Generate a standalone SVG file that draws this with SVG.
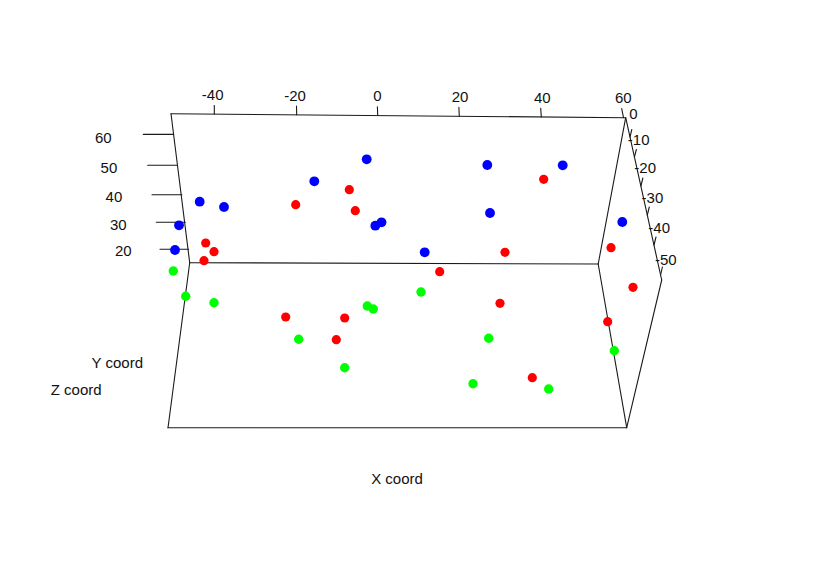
<svg xmlns="http://www.w3.org/2000/svg" width="814" height="586" viewBox="0 0 814 586">
<style>
  .ax { stroke:#1a1a1a; stroke-width:1.1; fill:none; stroke-linecap:round; }
  .lab { font-family:"Liberation Sans", Arial, sans-serif; font-size:15px; fill:#111; }
  .b { fill:#0000ff; }
  .r { fill:#ff0000; }
  .g { fill:#00ff00; }
</style>
<rect width="814" height="586" fill="#ffffff"/>
<g id="box" class="ax">
  <line x1="171" y1="113.7" x2="625.7" y2="117.7"/>
  <line x1="171" y1="113.7" x2="189.7" y2="262.7"/>
  <line x1="189.7" y1="262.7" x2="598.2" y2="264"/>
  <line x1="625.7" y1="117.7" x2="598.2" y2="264"/>
  <line x1="625.7" y1="117.7" x2="661.7" y2="280"/>
  <line x1="661.7" y1="280" x2="626.7" y2="427.7"/>
  <line x1="598.2" y1="264" x2="626.7" y2="427.7"/>
  <line x1="168" y1="427.7" x2="626.7" y2="427.7"/>
  <line x1="189.7" y1="262.7" x2="168" y2="427.7"/>
</g>
<g id="x-axis">
  <g class="ax">
    <line x1="214.3" y1="114.1" x2="214.3" y2="105.5"/>
    <line x1="296.7" y1="114.8" x2="296.5" y2="106"/>
    <line x1="377.7" y1="115.5" x2="377.4" y2="106.7"/>
    <line x1="459.3" y1="116.2" x2="458.9" y2="107.4"/>
    <line x1="541.3" y1="117" x2="540.7" y2="108.2"/>
    <line x1="623.5" y1="117.7" x2="621.7" y2="108.6"/>
  </g>
  <g class="lab" text-anchor="middle">
    <text x="212.7" y="100.2">-40</text>
    <text x="295" y="100.6">-20</text>
    <text x="377.5" y="101.2">0</text>
    <text x="460" y="101.8">20</text>
    <text x="542.3" y="102.6">40</text>
    <text x="623.3" y="102.8">60</text>
  </g>
</g>
<g id="z-axis">
  <g class="ax">
    <line x1="143.3" y1="134.4" x2="173.6" y2="134.4"/>
    <line x1="147.7" y1="165.3" x2="177.5" y2="165.3"/>
    <line x1="152" y1="194.7" x2="181.9" y2="194.7"/>
    <line x1="156.3" y1="222.3" x2="185.3" y2="222.3"/>
    <line x1="160" y1="249.3" x2="188.6" y2="249.3"/>
  </g>
  <g class="lab" text-anchor="end">
    <text x="111.7" y="142.8">60</text>
    <text x="117.3" y="172.7">50</text>
    <text x="122.3" y="202.1">40</text>
    <text x="126.7" y="229.7">30</text>
    <text x="131.7" y="256.4">20</text>
  </g>
</g>
<g id="y-axis">
  <g class="ax">
    <line x1="630" y1="137" x2="631.8" y2="129.5"/>
    <line x1="634.4" y1="157" x2="636.4" y2="149.5"/>
    <line x1="640.9" y1="186" x2="642.9" y2="178"/>
    <line x1="647.3" y1="215" x2="649.3" y2="207"/>
    <line x1="654" y1="245" x2="656" y2="237"/>
    <line x1="660.6" y1="275" x2="662.4" y2="267"/>
  </g>
  <g class="lab">
    <text x="629.3" y="118.7">0</text>
    <text x="627.8" y="144.7">-10</text>
    <text x="634.3" y="173.1">-20</text>
    <text x="641.6" y="202.7">-30</text>
    <text x="648.3" y="233.1">-40</text>
    <text x="655" y="264.7">-50</text>
  </g>
</g>
<g id="axis-titles" class="lab" text-anchor="middle">
  <text x="397" y="484">X coord</text>
  <text x="117.3" y="367.7">Y coord</text>
  <text x="76.2" y="394.7">Z coord</text>
</g>
<g id="points-blue" class="b">
  <circle cx="366.7" cy="159.3" r="4.9"/>
  <circle cx="314.3" cy="181.3" r="4.9"/>
  <circle cx="199.7" cy="201.7" r="4.9"/>
  <circle cx="224" cy="207" r="4.9"/>
  <circle cx="179" cy="225.3" r="4.9"/>
  <circle cx="175" cy="250" r="4.9"/>
  <circle cx="381.5" cy="222.3" r="4.9"/>
  <circle cx="375.3" cy="225.7" r="4.9"/>
  <circle cx="487.3" cy="165" r="4.9"/>
  <circle cx="562.7" cy="165.3" r="4.9"/>
  <circle cx="490" cy="213" r="4.9"/>
  <circle cx="424.7" cy="252.3" r="4.9"/>
  <circle cx="622.3" cy="222" r="4.9"/>
</g>
<g id="points-red" class="r">
  <circle cx="349.3" cy="189.7" r="4.6"/>
  <circle cx="355.3" cy="210.7" r="4.6"/>
  <circle cx="295.7" cy="204.7" r="4.6"/>
  <circle cx="205.7" cy="243" r="4.6"/>
  <circle cx="214" cy="251.7" r="4.6"/>
  <circle cx="204" cy="260.7" r="4.6"/>
  <circle cx="543.7" cy="179.3" r="4.6"/>
  <circle cx="505" cy="252.3" r="4.6"/>
  <circle cx="611" cy="247.7" r="4.6"/>
  <circle cx="633" cy="287.3" r="4.6"/>
  <circle cx="439.7" cy="271.7" r="4.6"/>
  <circle cx="285.7" cy="317" r="4.6"/>
  <circle cx="344.7" cy="318" r="4.6"/>
  <circle cx="336.3" cy="339.7" r="4.6"/>
  <circle cx="500" cy="303.3" r="4.6"/>
  <circle cx="607.7" cy="321.7" r="4.6"/>
  <circle cx="532.3" cy="377.7" r="4.6"/>
</g>
<g id="points-green" class="g">
  <circle cx="173.3" cy="271" r="4.7"/>
  <circle cx="185.7" cy="296.3" r="4.7"/>
  <circle cx="214" cy="302.7" r="4.7"/>
  <circle cx="298.7" cy="339.3" r="4.7"/>
  <circle cx="344.7" cy="367.7" r="4.7"/>
  <circle cx="421" cy="292" r="4.7"/>
  <circle cx="367.3" cy="306" r="4.7"/>
  <circle cx="373.3" cy="309" r="4.7"/>
  <circle cx="488.7" cy="338.3" r="4.7"/>
  <circle cx="473" cy="383.7" r="4.7"/>
  <circle cx="548.7" cy="389" r="4.7"/>
  <circle cx="614.3" cy="350.7" r="4.7"/>
</g>
</svg>
